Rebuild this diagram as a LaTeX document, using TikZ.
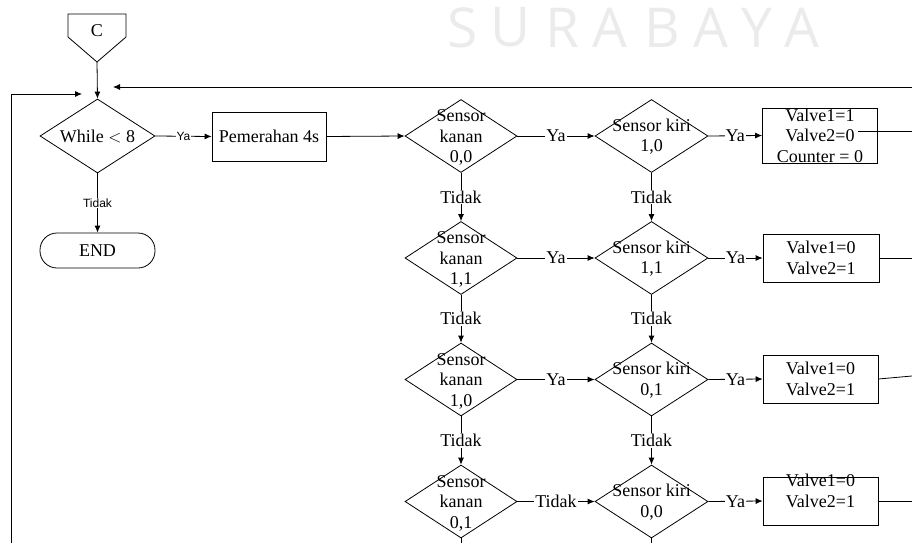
\documentclass[tikz,border=0pt]{standalone}
\usepackage{fontspec}
\setmainfont{Liberation Serif}
\newfontfamily\labelsans{Liberation Sans}
\newfontfamily\markfont{Open Sans}
\usetikzlibrary{shapes.geometric,arrows.meta}
\begin{document}
\begin{tikzpicture}[x=1pt,y=-1pt,
  line width=0.8pt,
  every node/.style={font=\fontsize{18}{20.5}\selectfont},
  decision/.style={draw,diamond,inner sep=0pt,minimum width=112pt,minimum height=73pt},
  dtext/.style={align=center,inner sep=0pt},
  process/.style={draw,rectangle,inner sep=0pt,minimum width=115pt,align=center},
  flow/.style={-{Latex[length=7pt,width=6pt]}},
  tag/.style={fill=white,inner sep=1pt},
  smalltag/.style={fill=white,inner sep=1pt,font=\labelsans\fontsize{12}{14}\selectfont},
  markletter/.style={text=black!8,font=\markfont\fontsize{55}{60}\selectfont,inner sep=0pt},
]
\useasboundingbox (0,0) rectangle (912,543);

% watermark lettering
\foreach \ch/\xx [count=\i] in {S/463,U/511,R/562,A/610,B/662,A/711,Y/757,A/802}
  \node[markletter] (mark\i) at (\xx,27.5) {\ch};

% off-page connector C
\draw (68,14) -- (126,14) -- (126,37) -- (97,62) -- (68,37) -- cycle;
\node (C) at (97,31) {C};
\coordinate (Cpt) at (97,62);

% main loop decision and terminator
\node[decision,minimum width=115pt,minimum height=74pt] (while) at (97.5,136) {};
\node[dtext] (whilet) at (while.center) {While $<$ 8};
\node[draw,rounded corners=17pt,minimum width=115pt,minimum height=35pt,inner sep=0pt] (end) at (97.5,250.5) {END};
\node[process,minimum width=114pt,minimum height=49pt] (pem) at (269,136.5) {Pemerahan 4s};

% sensor decisions
\node[decision] (k1) at (461,136) {};
\node[decision] (k2) at (461,258) {};
\node[decision] (k3) at (461,379.5) {};
\node[decision] (k4) at (461,501.5) {};
\node[decision,minimum width=113pt] (r1) at (651.5,136) {};
\node[decision,minimum width=113pt] (r2) at (651.5,258) {};
\node[decision,minimum width=113pt] (r3) at (651.5,379.5) {};
\node[decision,minimum width=113pt] (r4) at (651.5,501.5) {};
\node[dtext] (k1t) at (461,137.5) {Sensor\\kanan\\0,0};
\node[dtext] (k2t) at (461,259.5) {Sensor\\kanan\\1,1};
\node[dtext] (k3t) at (461,381) {Sensor\\kanan\\1,0};
\node[dtext] (k4t) at (461,503) {Sensor\\kanan\\0,1};
\node[dtext] (r1t) at (651.5,136.5) {Sensor kiri\\1,0};
\node[dtext] (r2t) at (651.5,258.5) {Sensor kiri\\1,1};
\node[dtext] (r3t) at (651.5,380) {Sensor kiri\\0,1};
\node[dtext] (r4t) at (651.5,502) {Sensor kiri\\0,0};

% valve settings
\node[process,minimum height=55pt] (b1) at (820,135.5) {Valve1=1\\Valve2=0\\Counter = 0};
\node[process,minimum width=116pt,minimum height=48pt] (b2) at (821,258) {Valve1=0\\Valve2=1};
\node[process,minimum height=48pt] (b3) at (820.5,379) {Valve1=0\\Valve2=1};
\node[process,minimum height=48pt] (b4) at (820.5,501) {};
\node[dtext] (b4t) at (820.5,491) {Valve1=0\\Valve2=1};

% free ends of the connectors
\coordinate (loopbot) at (11,543);
\coordinate (loopin) at (82,94);
\coordinate (backR) at (912,87);
\coordinate (backin) at (113,87);
\coordinate (b1o) at (858,131);
\coordinate (o1) at (912,131);
\coordinate (o2) at (912,258);
\coordinate (o3) at (912,376);
\coordinate (o4) at (912,501);
\coordinate (k4o) at (461,543);
\coordinate (r4o) at (651.5,543);

% connectors
\draw[flow] (Cpt) -- (while.north);
\draw[flow] (loopbot) |- (loopin);
\draw[flow] (backR) -- (backin);
\draw[flow] (while.east) -- node[smalltag] (ya0) {Ya} (pem.west);
\draw[flow] (while.south) -- node[smalltag] (td0) {Tidak} (end.north);
\draw[flow] (pem.east) -- (k1.west);

\draw[flow] (k1.east) -- node[tag] (yk1) {Ya} (r1.west);
\draw[flow] (k2.east) -- node[tag] (yk2) {Ya} (r2.west);
\draw[flow] (k3.east) -- node[tag] (yk3) {Ya} (r3.west);
\draw[flow] (k4.east) -- node[tag] (tk4) {Tidak} (r4.west);

\draw[flow] (r1.east) -- node[tag] (yr1) {Ya} (b1.west);
\draw[flow] (r2.east) -- node[tag] (yr2) {Ya} (b2.west);
\draw[flow] (r3.east) -- node[tag] (yr3) {Ya} (b3.west);
\draw[flow] (r4.east) -- node[tag] (yr4) {Ya} (b4.west);

\draw[flow] (k1.south) -- node[tag] (tk1) {Tidak} (k2.north);
\draw[flow] (k2.south) -- node[tag] (tk2) {Tidak} (k3.north);
\draw[flow] (k3.south) -- node[tag] (tk3) {Tidak} (k4.north);
\draw[flow] (r1.south) -- node[tag] (tr1) {Tidak} (r2.north);
\draw[flow] (r2.south) -- node[tag] (tr2) {Tidak} (r3.north);
\draw[flow] (r3.south) -- node[tag] (tr3) {Tidak} (r4.north);

\draw (b1o) -- (o1);
\draw (b2.east) -- (o2);
\draw (b3.east) -- (o3);
\draw (b4.east) -- (o4);
\draw (k4.south) -- (k4o);
\draw (r4.south) -- (r4o);
\end{tikzpicture}
\end{document}
